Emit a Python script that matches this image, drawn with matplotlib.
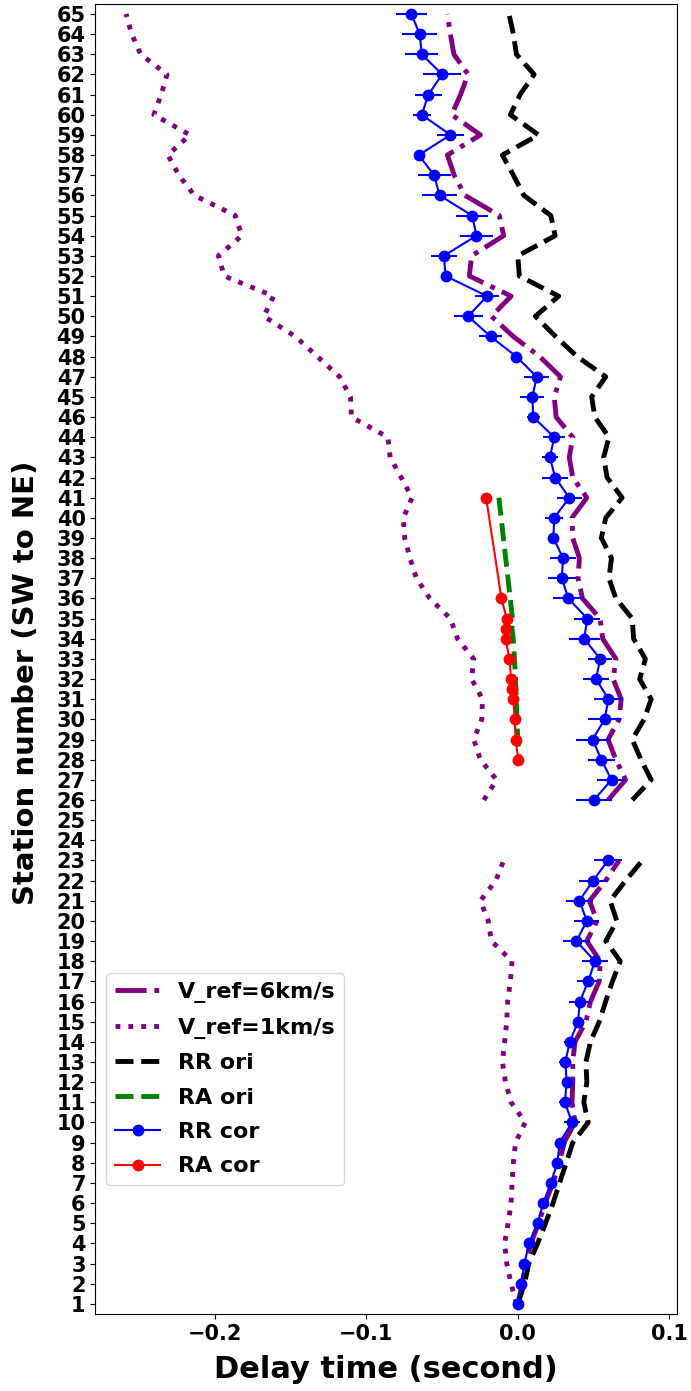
import numpy as np
import matplotlib.pyplot as plt

plt.rcParams['font.family'] = 'DejaVu Sans'
plt.rcParams['font.weight'] = 'bold'

#STATION LABELS (bottom to top, 46 and 45 swapped on the profile)
stations = [str(i) for i in range(1, 45)] + ['46', '45'] + [str(i) for i in range(47, 66)]

nan = np.nan
# RR delays per station, same order as the labels above (24, 25 missing)
rr_cor = [0.0, 0.0023, 0.0044, 0.0073, 0.0131, 0.0169, 0.0218, 0.0262, 0.0276, 0.0358,
          0.0311, 0.0323, 0.0314, 0.0343, 0.0398, 0.041, 0.0465, 0.0509, 0.0387, 0.0456,
          0.0407, 0.0497, 0.0596, nan, nan, 0.0503, 0.0619, 0.0552, 0.0494, 0.0573,
          0.0599, 0.0517, 0.0544, 0.0439, 0.0459, 0.0334, 0.0291, 0.0299, 0.0235, 0.0241,
          0.034, 0.0247, 0.0212, 0.0241, 0.0102, 0.0096, 0.0125, -0.0009, -0.018, -0.0328,
          -0.0203, -0.0477, -0.0488, -0.0273, -0.0302, -0.0517, -0.0552, -0.0654, -0.0445, -0.0634,
          -0.059, -0.05, -0.0634, -0.0648, -0.0703]
rr_err = [0.002, 0.002, 0.002, 0.002, 0.002, 0.002, 0.002, 0.002, 0.002, 0.005,
          0.0036, 0.003, 0.004, 0.0036, 0.0036, 0.0073, 0.0073, 0.0087, 0.0087, 0.0083,
          0.0087, 0.0092, 0.0094, nan, nan, 0.0116, 0.0094, 0.0087, 0.0112, 0.011,
          0.0094, 0.0087, 0.008, 0.0102, 0.0087, 0.0102, 0.0092, 0.0084, 0.0036, 0.006,
          0.0084, 0.0084, 0.0055, 0.0073, 0.0044, 0.008, 0.0084, 0.002, 0.0076, 0.0095,
          0.0078, 0.002, 0.0087, 0.011, 0.0106, 0.0118, 0.011, 0.002, 0.0087, 0.006,
          0.0087, 0.0124, 0.011, 0.0116, 0.0102]
vref6 = [0.0, 0.0029, 0.0052, 0.0087, 0.0137, 0.018, 0.0233, 0.0276, 0.0305, 0.0378,
         0.0358, 0.0363, 0.0363, 0.0378, 0.045, 0.048, 0.0538, 0.0544, 0.0456, 0.0523,
         0.0474, 0.0581, 0.0669, nan, nan, 0.0596, 0.0712, 0.0648, 0.0596, 0.0669,
         0.0683, 0.063, 0.0648, 0.0561, 0.0544, 0.0427, 0.0398, 0.0407, 0.0363, 0.0358,
         0.0456, 0.0363, 0.034, 0.0363, 0.0253, 0.0241, 0.0282, 0.0145, -0.003, -0.0174,
         -0.0044, -0.032, -0.0305, -0.0093, -0.0122, -0.0349, -0.042, -0.0465, -0.0247, -0.0436,
         -0.0378, -0.0328, -0.0422, -0.0445, -0.0465]
vref1 = [-0.001, -0.0044, -0.0073, -0.0087, -0.0064, -0.0044, -0.0038, -0.0029, -0.0015, 0.0049,
         -0.0044, -0.0081, -0.0102, -0.0087, -0.0073, -0.0067, -0.0049, -0.0038, -0.0174, -0.0195,
         -0.0247, -0.0145, -0.0093, nan, nan, -0.0224, -0.014, -0.0247, -0.0291, -0.0238,
         -0.0233, -0.0305, -0.0291, -0.0398, -0.0445, -0.0581, -0.0669, -0.0712, -0.0747, -0.0756,
         -0.0698, -0.077, -0.0843, -0.0858, -0.1099, -0.1105, -0.1177, -0.1323, -0.147, -0.1677,
         -0.1613, -0.1939, -0.1977, -0.1823, -0.1866, -0.2137, -0.2238, -0.2311, -0.2166, -0.2404,
         -0.2355, -0.2317, -0.2491, -0.255, -0.2587]
rr_ori = [0.0, 0.0044, 0.0073, 0.0131, 0.0183, 0.0233, 0.0276, 0.032, 0.0363, 0.0465,
          0.0436, 0.0456, 0.045, 0.048, 0.0538, 0.058, 0.0625, 0.0677, 0.0581, 0.0654,
          0.061, 0.0712, 0.0823, nan, nan, 0.0756, 0.0881, 0.0814, 0.0756, 0.0834,
          0.0881, 0.0805, 0.0843, 0.0765, 0.0756, 0.0648, 0.0602, 0.0619, 0.0552, 0.0581,
          0.0689, 0.059, 0.0567, 0.0602, 0.0509, 0.0488, 0.0581, 0.0392, 0.025, 0.0116,
          0.027, 0.001, 0.0, 0.0247, 0.0218, 0.004, -0.0029, -0.0102, 0.0137, -0.0049,
          0.0015, 0.0108, -0.0009, -0.0029, -0.0058]

# RA stations (in station units, some sit between RR stations)
ra_station = [41, 36, 35, 34.5, 34, 33, 32, 31.5, 31, 30, 29, 28]
ra_ori = [-0.0125, -0.005, -0.0035, -0.0038, -0.003, -0.0022, -0.0015, -0.0012, -0.001, -0.0005, 0.0, 0.001]
ra_cor = [-0.0209, -0.0108, -0.0073, -0.0079, -0.0081, -0.0055, -0.0044, -0.0038, -0.0029, -0.002, -0.0015, 0.0003]

#PLOT
y = np.arange(len(stations))
y_ra = np.array(ra_station) - 1

fig = plt.figure(figsize=(6.91, 13.91), dpi=100)
ax = fig.add_axes([0.138, 0.0554, 0.8414, 0.9418])

h1, = ax.plot(vref6, y, '-.', color='purple', lw=3.5, label='V_ref=6km/s')
h2, = ax.plot(vref1, y, ':', color='purple', lw=3.5, label='V_ref=1km/s')
h3, = ax.plot(rr_ori, y, '--', color='k', lw=3.5, label='RR ori')
h4, = ax.plot(ra_ori, y_ra, '--', color='green', lw=3.5, label='RA ori')
eb = ax.errorbar(rr_cor, y, xerr=rr_err, fmt='o-', color='b', ms=7.5, lw=1.5,
                 elinewidth=1.5, capsize=0, label='RR cor')
h6, = ax.plot(ra_cor, y_ra, 'o-', color='r', ms=7.5, lw=1.5, label='RA cor')

ax.set_yticks(y)
ax.set_yticklabels(stations)
ax.set_ylim(-0.5, 64.5)
ax.set_xticks([-0.2, -0.1, 0.0, 0.1])
ax.set_xlim(-0.279, 0.105)
ax.tick_params(labelsize=15)

ax.set_xlabel('Delay time (second)', fontsize=22, fontweight='bold')
ax.set_ylabel('Station number (SW to NE)', fontsize=21, fontweight='bold')
ax.xaxis.set_label_coords(0.499, -0.031)
ax.yaxis.set_label_coords(-0.095, 0.482)

ax.legend([h1, h2, h3, h4, eb[0], h6],
          ['V_ref=6km/s', 'V_ref=1km/s', 'RR ori', 'RA ori', 'RR cor', 'RA cor'],
          loc='upper left', bbox_to_anchor=(0.0, 0.2685), fontsize=16, labelspacing=0.65)

plt.savefig('out.png', dpi=100)
